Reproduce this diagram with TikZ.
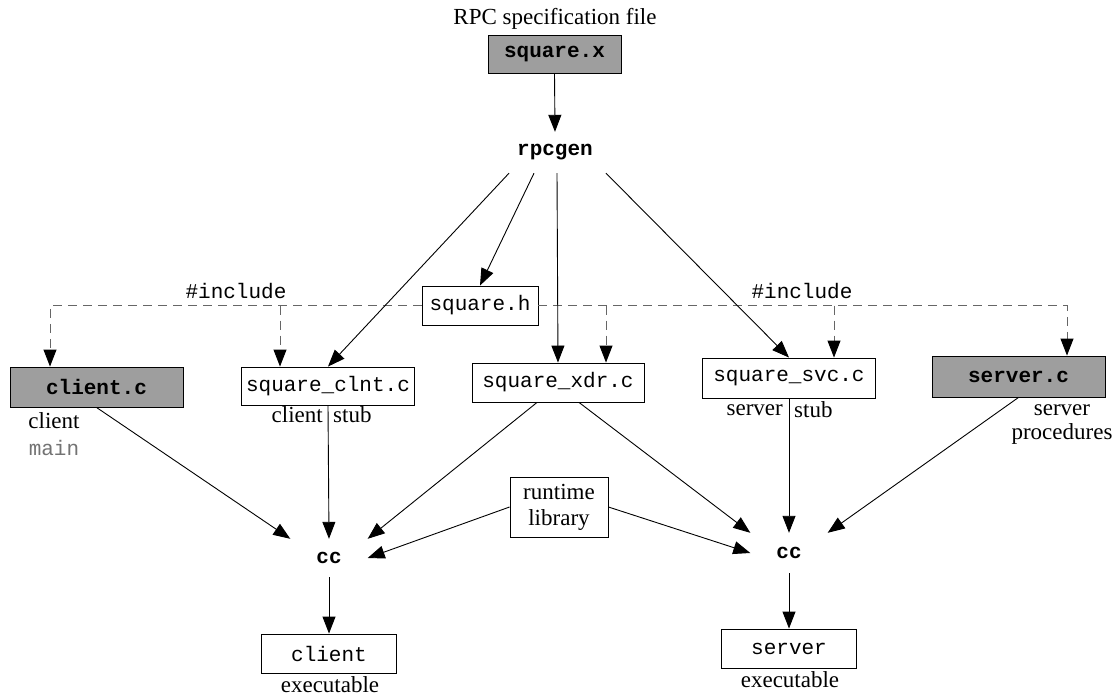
\documentclass[tikz,border=0pt]{standalone}
\usepackage{fontspec}
\setmainfont{Liberation Serif}
\setmonofont{Liberation Mono}
\usetikzlibrary{arrows.meta,calc}
\tikzset{
  file/.style={draw, line width=0.9pt, inner sep=0pt, font=\fontsize{21}{24}\selectfont\ttfamily},
  src/.style={file, fill=black!38},
  lbl/.style={inner sep=0pt, font=\fontsize{23}{26}\selectfont},
  tool/.style={inner sep=0pt, minimum width=77pt, minimum height=38pt, font=\fontsize{21}{24}\selectfont\ttfamily\bfseries},
  conn/.style={line width=0.9pt, -{Triangle[length=17pt,width=13pt]}},
  inc/.style={line width=0.9pt, black!60, dash pattern=on 9pt off 6pt, -{Triangle[length=17pt,width=13pt,black]}}
}
\begin{document}
\begin{tikzpicture}[x=1pt,y=-1pt]
\useasboundingbox (0,0) rectangle (1117,696);
% nodes
\node[src, minimum width=133pt, minimum height=38pt, font=\fontsize{21}{24}\selectfont\ttfamily\bfseries] (sqx) at (554.5,54) {square.x};
\node[lbl] (spec) at (555,19) {RPC specification file};
\node[tool, minimum width=90pt, minimum height=41pt] (rpcgen) at (555,152.5) {rpcgen};
\node[file, minimum width=116pt, minimum height=39pt] (sqh) at (480,305.5) {square.h};
\node[src, minimum width=173pt, minimum height=40pt, font=\fontsize{21}{24}\selectfont\ttfamily\bfseries] (clientc) at (96.5,387) {client.c};
\node[file, minimum width=173pt, minimum height=38pt] (clnt) at (328,386) {square\_clnt.c};
\node[file, minimum width=172pt, minimum height=39pt] (xdr) at (558,382.5) {square\_xdr.c};
\node[file, minimum width=173pt, minimum height=40pt] (svc) at (789,378) {square\_svc.c};
\node[src, minimum width=173pt, minimum height=41pt, font=\fontsize{21}{24}\selectfont\ttfamily\bfseries] (serverc) at (1018.5,376.5) {server.c};
\node[file, minimum width=98pt, minimum height=60pt, font=\fontsize{23}{26}\selectfont, align=center] (rt) at (559,507) {runtime\\library};
\node[tool] (cc1) at (329,558) {cc};
\node[tool, minimum height=40pt] (cc2) at (789,553) {cc};
\node[file, minimum width=135pt, minimum height=39pt] (cexe) at (329,653.5) {client};
\node[file, minimum width=135pt, minimum height=39pt] (sexe) at (789,648.5) {server};
% labels
\node[lbl] (lclient) at (54,421) {client};
\node[inner sep=0pt, font=\fontsize{21}{24}\selectfont\ttfamily, text=black!55] (lmain) at (54,448) {main};
\node[lbl, anchor=east] (lcs1) at (323,415) {client};
\node[lbl, anchor=west] (lcs2) at (333,415) {stub};
\node[lbl, anchor=east] (lss1) at (783,410) {server};
\node[lbl, anchor=west] (lss2) at (794,410) {stub};
\node[lbl] (lsp1) at (1062,410) {server};
\node[lbl] (lsp2) at (1062,434) {procedures};
\node[lbl] (lce) at (330,685) {executable};
\node[lbl] (lse) at (790,680) {executable};
\node[inner sep=0pt, font=\fontsize{21}{24}\selectfont\ttfamily] (inc1) at (236,291) {\#include};
\node[inner sep=0pt, font=\fontsize{21}{24}\selectfont\ttfamily] (inc2) at (802,291) {\#include};
% junctions of the include lines
\coordinate (jl) at (280,305.5);
\coordinate (jx) at (606,305.5);
\coordinate (js) at (834,305.5);
% include lines
\draw[inc] (sqh.west) -| ($(clientc.north)+(-46.5,0)$);
\draw[inc] (jl) -- (jl |- clnt.north);
\draw[inc] (sqh.east) -| ($(serverc.north)+(48.5,0)$);
\draw[inc] (jx) -- (jx |- xdr.north);
\draw[inc] (js) -- (js |- svc.north);
% solid connectors
\draw[conn] (sqx.south) -- (rpcgen.north);
\draw[conn] ($(rpcgen.south)+(-46,0)$) -- (clnt.north);
\draw[conn] ($(rpcgen.south)+(-21,0)$) -- (sqh.north);
\draw[conn] ($(rpcgen.south)+(2,0)$) -- (xdr.north);
\draw[conn] ($(rpcgen.south)+(51,0)$) -- (svc.north);
\draw[conn] (clientc.south) -- (cc1.north west);
\draw[conn] (clnt.south) -- (cc1.north);
\draw[conn] ($(xdr.south)+(-21,0)$) -- (cc1.north east);
\draw[conn] (rt.west) -- (cc1.east);
\draw[conn] ($(xdr.south)+(21,0)$) -- (cc2.north west);
\draw[conn] (rt.east) -- (cc2.west);
\draw[conn] (svc.south) -- (cc2.north);
\draw[conn] (serverc.south) -- (cc2.north east);
\draw[conn] (cc1.south) -- (cexe.north);
\draw[conn] (cc2.south) -- (sexe.north);
\end{tikzpicture}
\end{document}
